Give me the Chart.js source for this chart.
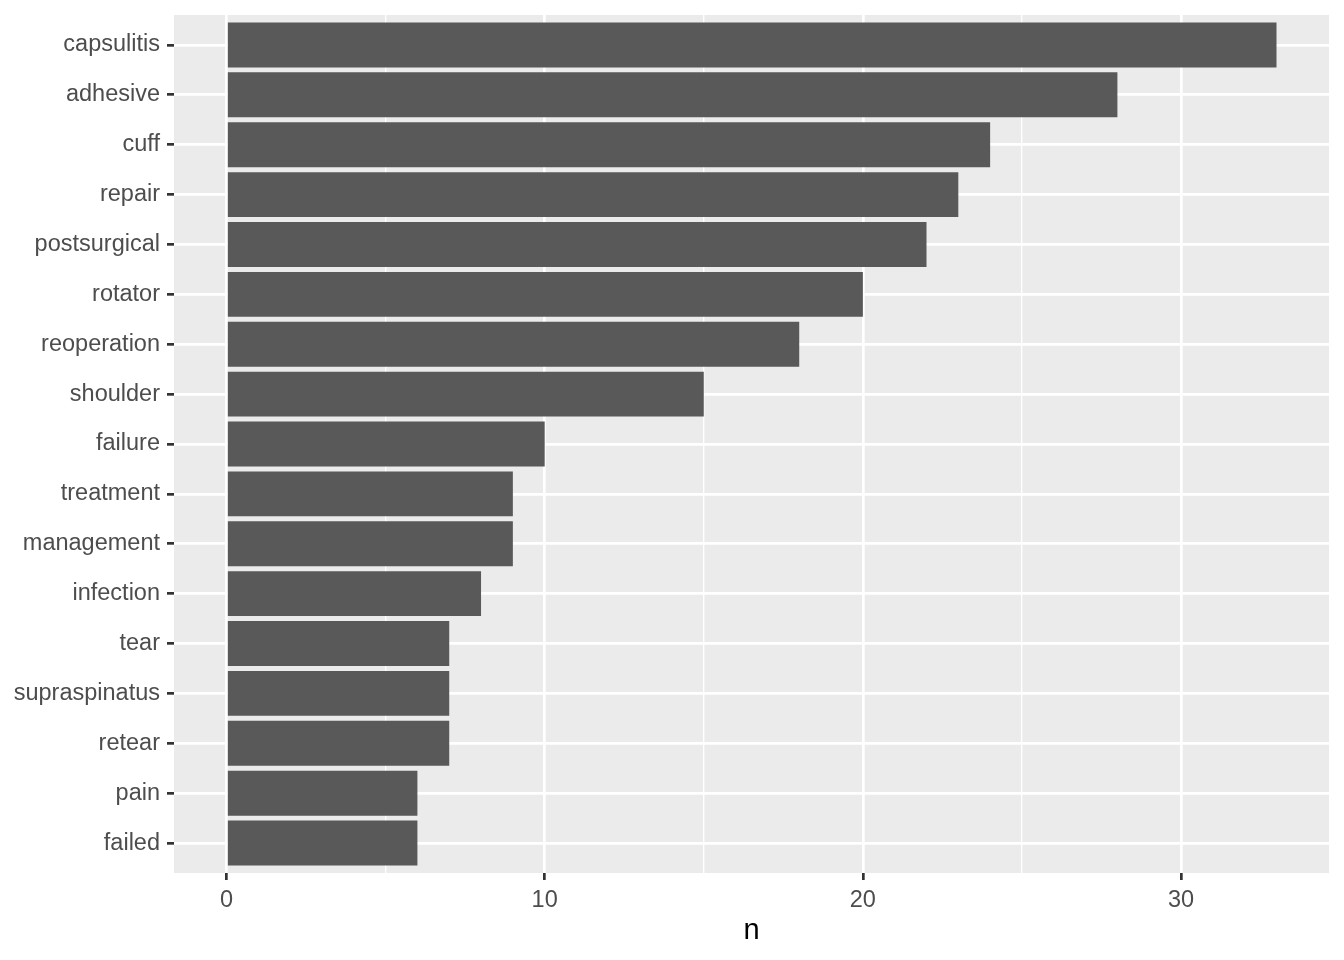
<!DOCTYPE html>
<html>
<head>
<meta charset="utf-8">
<script src="https://cdn.jsdelivr.net/npm/chart.js@4"></script>
<style>
  html, body { margin: 0; padding: 0; background: #ffffff; }
  #wrap { width: 1344px; height: 960px; }
</style>
</head>
<body>
<div id="wrap"><canvas id="c" width="1344" height="960"></canvas></div>
<script>
const categories = ["capsulitis", "adhesive", "cuff", "repair", "postsurgical", "rotator", "reoperation", "shoulder", "failure", "treatment", "management", "infection", "tear", "supraspinatus", "retear", "pain", "failed"];
const counts = [33, 28, 24, 23, 22, 20, 18, 15, 10, 9, 9, 8, 7, 7, 7, 6, 6];
const xTicks = [0, 5, 10, 15, 20, 25, 30];
const xLabels = ["0", "", "10", "", "20", "", "30"];
const xTitle = "n";

const FONT = '"Liberation Sans", Arial, Helvetica, sans-serif';

const panelBg = {
  id: 'panelBg',
  beforeDraw(chart) {
    const a = chart.chartArea;
    const ctx = chart.ctx;
    ctx.save();
    ctx.fillStyle = '#EBEBEB';
    ctx.fillRect(a.left, a.top, a.right - a.left, a.bottom - a.top);
    ctx.restore();
  }
};

const points = categories.map((c, i) => ({ x: counts[i], y: i }));

new Chart(document.getElementById('c'), {
  type: 'bar',
  data: {
    datasets: [{
      data: points,
      backgroundColor: '#595959',
      borderWidth: 0,
      barPercentage: 0.9,
      categoryPercentage: 1.0
    }]
  },
  options: {
    indexAxis: 'y',
    responsive: false,
    animation: false,
    devicePixelRatio: 1,
    layout: { padding: { top: 15, right: 15, left: 0, bottom: 0 } },
    plugins: { legend: { display: false }, tooltip: { enabled: false } },
    scales: {
      x: {
        type: 'linear',
        position: 'bottom',
        min: -1.65,
        max: 34.65,
        offset: false,
        afterBuildTicks(scale) { scale.ticks = xTicks.map(v => ({ value: v })); },
        afterFit(scale) { scale.height = 87; scale.paddingLeft = 0; scale.paddingRight = 0; },
        border: { display: false },
        grid: {
          offset: false,
          color: '#FFFFFF',
          lineWidth: (ctx) => (ctx.tick && ctx.tick.value % 10 === 0) ? 2.7 : 1.35,
          drawTicks: true,
          tickLength: 7,
          tickWidth: 2.7,
          tickColor: (ctx) => (ctx.tick && ctx.tick.value % 10 === 0) ? '#333333' : 'rgba(0,0,0,0)'
        },
        ticks: {
          padding: 6,
          color: '#4D4D4D',
          font: { family: FONT, size: 23.5 },
          maxRotation: 0,
          autoSkip: false,
          callback: (v, i) => xLabels[i]
        },
        title: {
          display: true,
          text: xTitle,
          color: '#000000',
          font: { family: FONT, size: 29 },
          padding: { top: 0, bottom: 12 }
        }
      },
      y: {
        type: 'linear',
        position: 'left',
        reverse: true,
        min: -0.6,
        max: 16.6,
        offset: false,
        afterBuildTicks(scale) { scale.ticks = categories.map((c, i) => ({ value: i })); },
        afterFit(scale) { scale.width = 174; scale.paddingTop = 0; scale.paddingBottom = 0; },
        border: { display: false },
        grid: {
          offset: false,
          color: '#FFFFFF',
          lineWidth: 2.7,
          drawTicks: true,
          tickLength: 7,
          tickWidth: 2.7,
          tickColor: '#333333'
        },
        ticks: {
          padding: 7,
          color: '#4D4D4D',
          font: { family: FONT, size: 23.5 },
          autoSkip: false,
          callback: (v, i) => categories[i]
        }
      }
    }
  },
  plugins: [panelBg]
});
</script>
</body>
</html>
